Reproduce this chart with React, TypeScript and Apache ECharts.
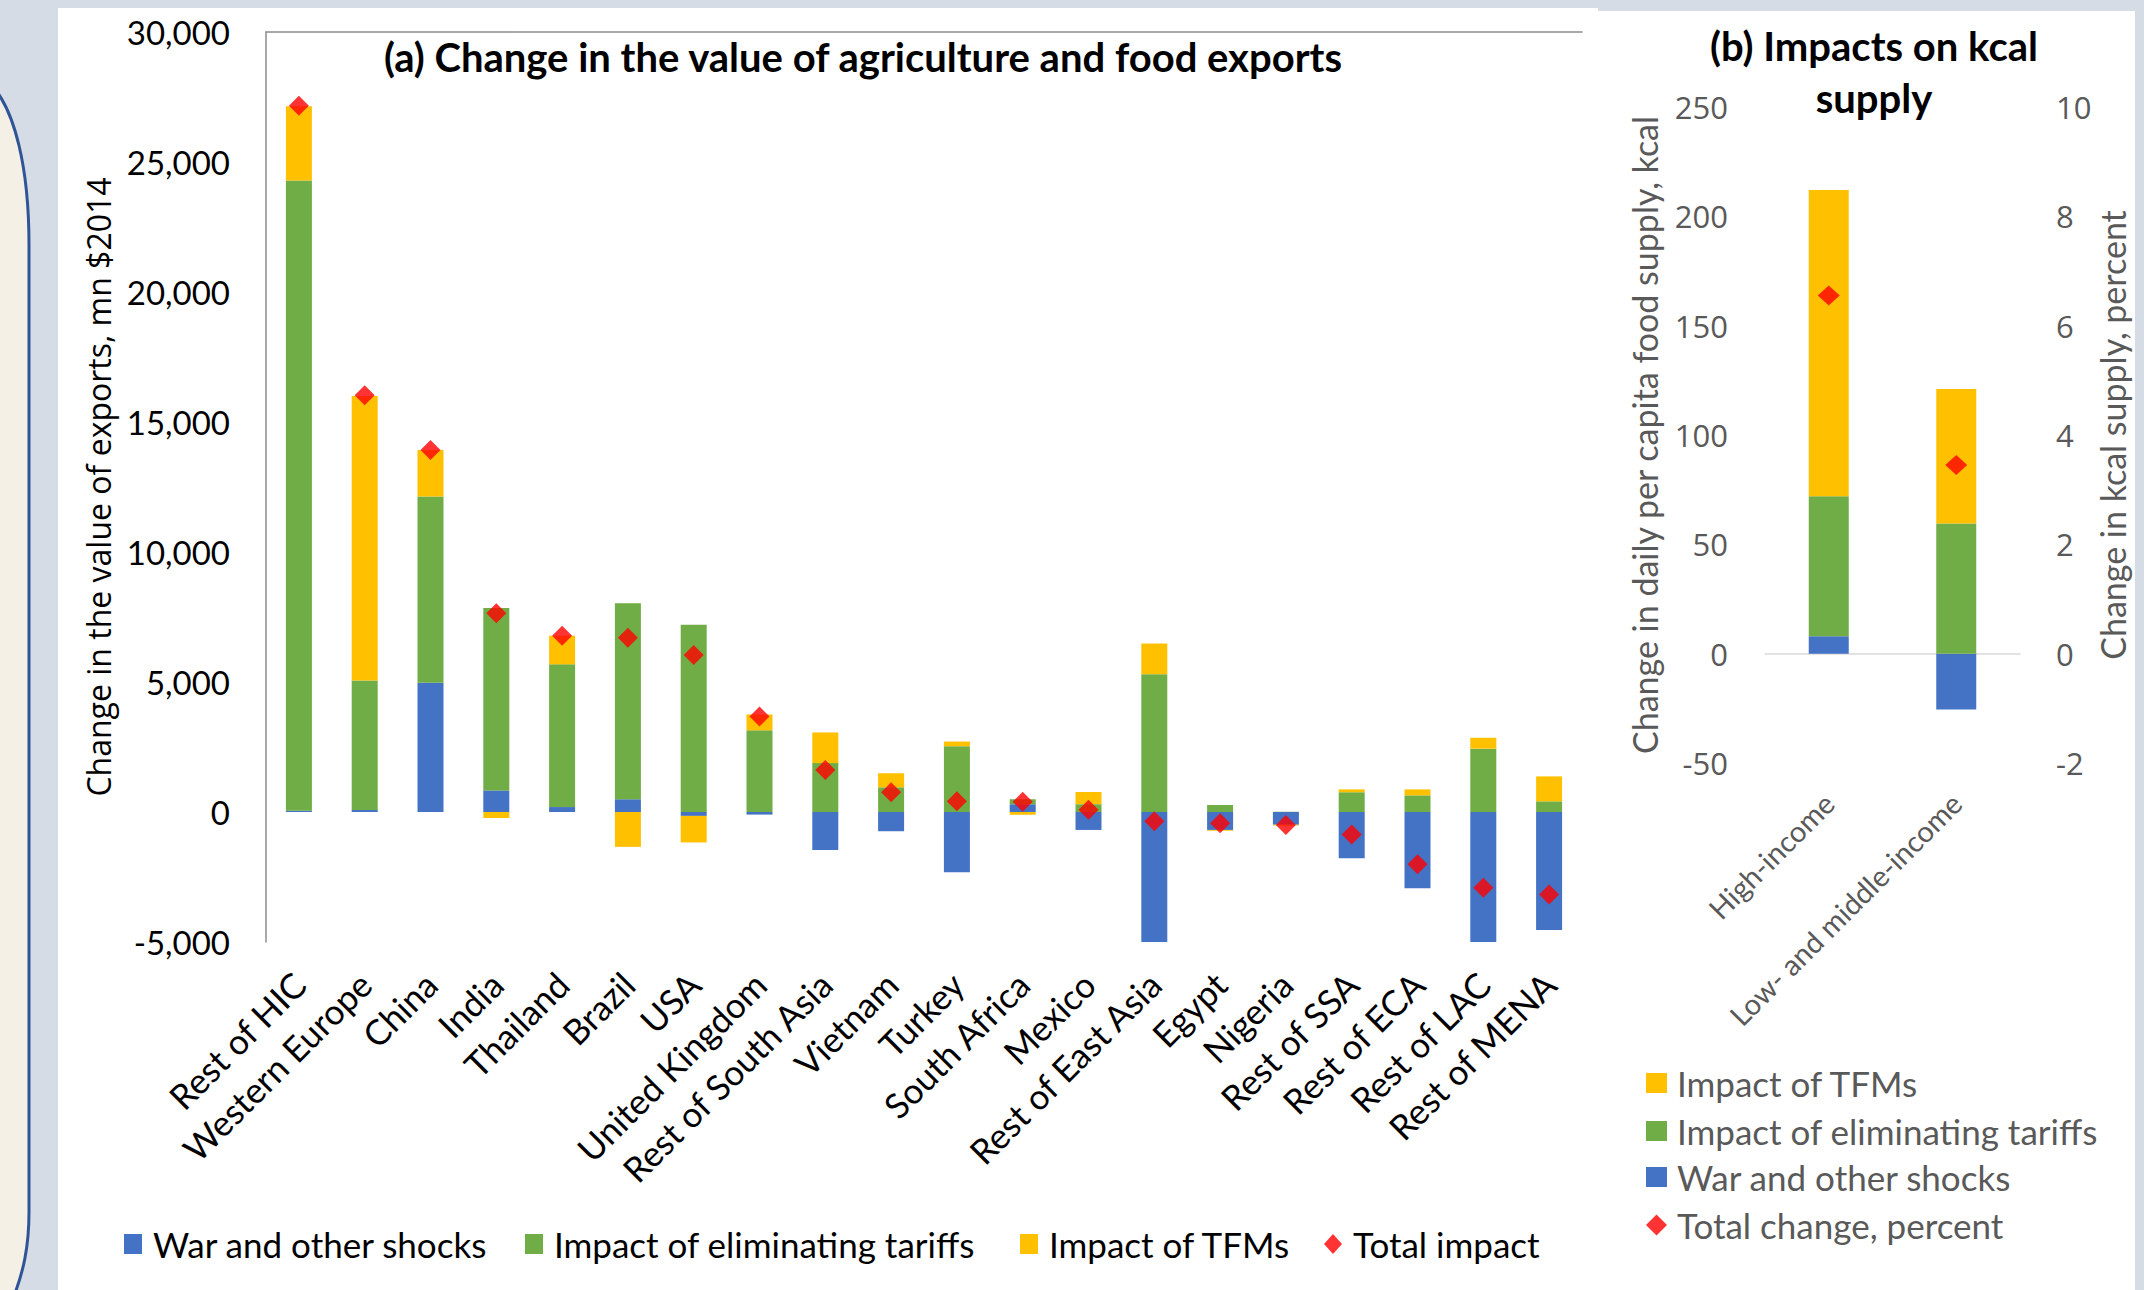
import React, { useEffect, useRef } from "react";
import * as echarts from "echarts";

// ---------- Data (panel a) ----------
const categories = [
  "Rest of HIC", "Western Europe", "China", "India", "Thailand", "Brazil", "USA",
  "United Kingdom", "Rest of South Asia", "Vietnam", "Turkey", "South Africa", "Mexico",
  "Rest of East Asia", "Egypt", "Nigeria", "Rest of SSA", "Rest of ECA", "Rest of LAC", "Rest of MENA",
];
const warShocks = [50, 80, 4970, 830, 190, 490, -150, -100, -1460, -740, -2320, 300, -690, -6830, -690, -490, -1780, -2930, -5770, -4540];
const tariffImpact = [24240, 4980, 7160, 7020, 5490, 7540, 7200, 3140, 1880, 950, 2530, 190, 300, 5300, 270, 10, 760, 640, 2435, 410];
const tfmImpact = [2850, 10940, 1790, -230, 1100, -1340, -1020, 610, 1180, 540, 180, -110, 470, 1180, -30, -30, 110, 230, 420, 960];
const totalImpact = [27160, 16030, 13920, 7640, 6780, 6700, 6040, 3670, 1620, 760, 410, 390, 90, -360, -430, -500, -870, -2010, -2915, -3170];
const yTicksA = { min: -5000, max: 30000, interval: 5000 };

// ---------- Data (panel b) ----------
const incomeGroups = ["High-income", "Low- and middle-income"];
const kcalWar = [8, -25.5];
const kcalTariffs = [64, 59.5];
const kcalTfm = [140, 61.5];
const kcalTotalPct = [6.55, 3.45];
const yTicksBLeft = { min: -50, max: 250, interval: 50 };
const yTicksBRight = { min: -2, max: 10, interval: 2 };

const BLUE = "#4472c4";
const GREEN = "#70ad47";
const YELLOW = "#ffc000";
const RED = "#ff0000";
const GRAY_TXT = "#595959";
const FONT = 'Lato, "Open Sans", sans-serif';

echarts.graphic.registerShape(
  "leftPanel",
  echarts.graphic.extendPath(
    "M -6 88 C 14 112 29 165 29 245 L 29 1212 C 29 1248 23 1272 14 1296 L -6 1296 Z",
    {}
  )
);

export default function App() {
  const ref = useRef<HTMLDivElement>(null);
  useEffect(() => {
    if (!ref.current) return;
    const chart = echarts.init(ref.current, undefined, { renderer: "svg" });
    const H = 1290;
    const legendA = (name: string, left: number, icon: string) => ({
      data: [{ name, icon }],
      left, top: 1226, itemWidth: 18, itemHeight: 20, padding: 0,
      textStyle: { fontFamily: FONT, fontSize: 35, color: "#000", lineHeight: 36, padding: [0, 0, 0, 6] },
    });
    const legendB = (name: string, top: number, icon: string) => ({
      data: [{ name, icon }],
      left: 1646, top, itemWidth: 21, itemHeight: icon === "diamond" ? 21 : 20, padding: 0,
      textStyle: { fontFamily: FONT, fontSize: 35, color: GRAY_TXT, lineHeight: 36, padding: [0, 0, 0, 5] },
    });
    chart.setOption({
      animation: false,
      backgroundColor: "#d6dce5",
      graphic: [
        { type: "rect", shape: { x: 58, y: 8, width: 1540, height: H }, style: { fill: "#ffffff" }, z: -10 },
        { type: "rect", shape: { x: 1595, y: 11, width: 540, height: H }, style: { fill: "#ffffff" }, z: -10 },
        { type: "leftPanel", x: 0, y: 0, style: { fill: "#f4f0e6", stroke: "#2f5597", lineWidth: 3 }, z: -10 },
        {
          type: "text", x: 863, y: 57,
          style: { text: "(a) Change in the value of agriculture and food exports", font: `bold 40px ${FONT}`, fill: "#000", textAlign: "center", textVerticalAlign: "middle" },
        },
        {
          type: "text", x: 1874, y: 72,
          style: { text: "(b) Impacts on kcal\nsupply", font: `bold 40px ${FONT}`, fill: "#000", textAlign: "center", textVerticalAlign: "middle", lineHeight: 52 },
        },
      ],
      grid: [
        { left: 266, top: 32, width: 1316, height: 910, outerBoundsMode: "none" },
        { left: 1765, top: 107, width: 255, height: 656, outerBoundsMode: "none" },
      ],
      legend: [
        legendA("War and other shocks", 124, "rect"),
        legendA("Impact of eliminating tariffs", 525, "rect"),
        legendA("Impact of TFMs", 1020, "rect"),
        legendA("Total impact", 1324, "diamond"),
        legendB("Impact of TFMs", 1065, "rect"),
        legendB("Impact of eliminating tariffs", 1113, "rect"),
        legendB("War and other shocks", 1159, "rect"),
        legendB("Total change, percent", 1207, "diamond"),
      ],
      xAxis: [
        {
          gridIndex: 0, type: "category", data: categories, position: "bottom",
          axisLine: { show: false }, axisTick: { show: false },
          axisLabel: { interval: 0, rotate: 45, margin: 36, fontFamily: FONT, fontSize: 35, color: "#000" },
        },
        {
          gridIndex: 0, type: "category", data: categories, position: "top",
          axisLine: { show: true, onZero: true, lineStyle: { color: "#8c8c8c", width: 1.5 } },
          axisTick: { show: false }, axisLabel: { show: false },
        },
        {
          gridIndex: 1, type: "category", data: incomeGroups, position: "bottom",
          axisLine: { show: false }, axisTick: { show: false },
          axisLabel: { interval: 0, rotate: 45, margin: 35, fontFamily: FONT, fontSize: 29, color: GRAY_TXT },
        },
        {
          gridIndex: 1, type: "category", data: incomeGroups, position: "top",
          axisLine: { show: true, onZero: true, lineStyle: { color: "#d9d9d9", width: 1.5 } },
          axisTick: { show: false }, axisLabel: { show: false },
        },
      ],
      yAxis: [
        {
          gridIndex: 0, type: "value", ...yTicksA,
          axisLine: { show: true, lineStyle: { color: "#8c8c8c", width: 1.5 } },
          axisTick: { show: false }, splitLine: { show: false },
          axisLabel: {
            margin: 36, fontFamily: FONT, fontSize: 33, color: "#000",
            formatter: (v: number) => v.toLocaleString("en-US"),
          },
          name: "Change in the value of exports, mn $2014", nameLocation: "middle", nameGap: 152,
          nameTextStyle: { fontFamily: '"Open Sans", sans-serif', fontSize: 32, color: "#000" },
        },
        {
          gridIndex: 1, type: "value", ...yTicksBLeft,
          axisLine: { show: false }, axisTick: { show: false }, splitLine: { show: false },
          axisLabel: { margin: 37, fontFamily: '"Open Sans", sans-serif', fontSize: 31, color: GRAY_TXT },
          name: "Change in daily per capita food supply, kcal", nameLocation: "middle", nameGap: 104,
          nameTextStyle: { fontFamily: FONT, fontSize: 34, color: GRAY_TXT },
        },
        {
          gridIndex: 1, type: "value", position: "right", ...yTicksBRight,
          axisLine: { show: false }, axisTick: { show: false }, splitLine: { show: false },
          axisLabel: { margin: 36, fontFamily: '"Open Sans", sans-serif', fontSize: 31, color: GRAY_TXT },
          name: "Change in kcal supply, percent", nameLocation: "middle", nameGap: 73,
          nameTextStyle: { fontFamily: FONT, fontSize: 34, color: GRAY_TXT },
        },
      ],
      series: [
        { name: "War and other shocks", type: "bar", stack: "a", xAxisIndex: 0, yAxisIndex: 0, barWidth: 26, data: warShocks, itemStyle: { color: BLUE } },
        { name: "Impact of eliminating tariffs", type: "bar", stack: "a", xAxisIndex: 0, yAxisIndex: 0, barWidth: 26, data: tariffImpact, itemStyle: { color: GREEN } },
        { name: "Impact of TFMs", type: "bar", stack: "a", xAxisIndex: 0, yAxisIndex: 0, barWidth: 26, data: tfmImpact, itemStyle: { color: YELLOW } },
        { name: "Total impact", type: "scatter", xAxisIndex: 0, yAxisIndex: 0, data: totalImpact, symbol: "diamond", symbolSize: 20, itemStyle: { color: RED }, z: 5 },
        { name: "War and other shocks", type: "bar", stack: "b", xAxisIndex: 2, yAxisIndex: 1, barWidth: 40, data: kcalWar, itemStyle: { color: BLUE } },
        { name: "Impact of eliminating tariffs", type: "bar", stack: "b", xAxisIndex: 2, yAxisIndex: 1, barWidth: 40, data: kcalTariffs, itemStyle: { color: GREEN } },
        { name: "Impact of TFMs", type: "bar", stack: "b", xAxisIndex: 2, yAxisIndex: 1, barWidth: 40, data: kcalTfm, itemStyle: { color: YELLOW } },
        { name: "Total change, percent", type: "scatter", xAxisIndex: 2, yAxisIndex: 2, data: kcalTotalPct, symbol: "diamond", symbolSize: [22, 20], itemStyle: { color: RED }, z: 5 },
      ],
    });
    return () => chart.dispose();
  }, []);
  return (
    <div
      ref={ref}
      style={{ position: "fixed", left: 0, top: 0, width: 2144, height: 1290 }}
    />
  );
}
